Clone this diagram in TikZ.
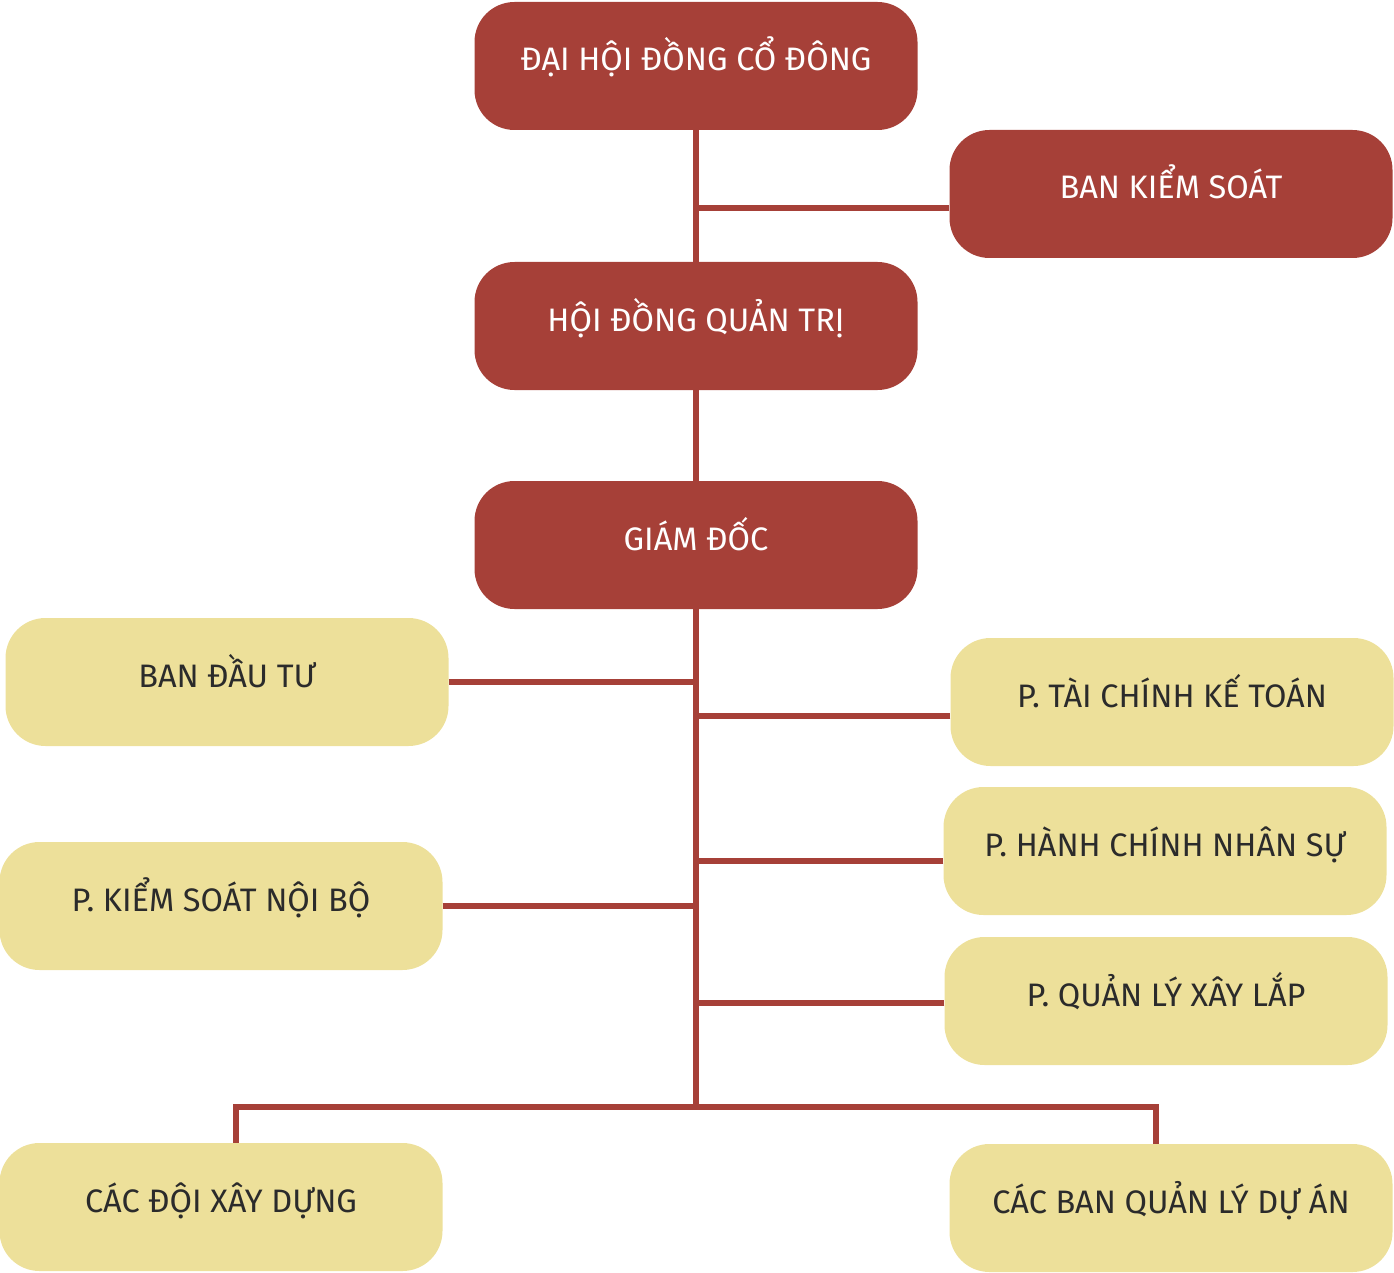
\documentclass[tikz,border=0pt]{standalone}
\usepackage{fontspec}
\setmainfont{Fira Sans}
\definecolor{boardRed}{HTML}{A64038}
\definecolor{deptYellow}{HTML}{EDE09A}
\definecolor{deptText}{HTML}{2B2B2B}

\begin{document}
\begin{tikzpicture}[x=1pt, y=-1pt,
    link/.style={draw=boardRed, line width=6pt},
    board/.style={fill=boardRed, text=white, rounded corners=40pt, minimum width=443pt, minimum height=128pt,
      text height=25pt, text depth=15pt, font=\fontsize{32.5}{36}\selectfont},
    dept/.style={board, fill=deptYellow, text=deptText}]
        \useasboundingbox (0,0) rectangle (1394,1273);

        \node[board] (DHCD) at (696,66) {ĐẠI HỘI ĐỒNG CỔ ĐÔNG};
        \node[board] (BKS) at (1171,194) {BAN KIỂM SOÁT};
        \node[board] (HDQT) at (696,326) {HỘI ĐỒNG QUẢN TRỊ};
        \node[board] (GD) at (696,545) {GIÁM ĐỐC};
        \node[dept] (BDT) at (227,682) {BAN ĐẦU TƯ};
        \node[dept] (TCKT) at (1172,702) {P. TÀI CHÍNH KẾ TOÁN};
        \node[dept] (HCNS) at (1165,851) {P. HÀNH CHÍNH NHÂN SỰ};
        \node[dept] (KSNB) at (221,906) {P. KIỂM SOÁT NỘI BỘ};
        \node[dept] (QLXL) at (1166,1001) {P. QUẢN LÝ XÂY LẮP};
        \node[dept] (DXD) at (221,1207) {CÁC ĐỘI XÂY DỰNG};
        \node[dept] (BQLDA) at (1171,1208) {CÁC BAN QUẢN LÝ DỰ ÁN};
        \coordinate (Fork) at (696,1107);

        \draw[link] (DHCD) -- (HDQT);
        \draw[link] (HDQT) -- (GD);
        \draw[link] ([yshift=-14pt]BKS.west) -- ([yshift=-14pt]BKS.west -| DHCD.south);
        \draw[link] (GD.south) -- (Fork);
        \draw[link] (BDT.east) -- (BDT.east -| Fork);
        \draw[link] ([yshift=-14pt]TCKT.west) -- ([yshift=-14pt]TCKT.west -| Fork);
        \draw[link] ([yshift=-10pt]HCNS.west) -- ([yshift=-10pt]HCNS.west -| Fork);
        \draw[link] (KSNB.east) -- (KSNB.east -| Fork);
        \draw[link] ([yshift=-2pt]QLXL.west) -- ([yshift=-2pt]QLXL.west -| Fork);
        \draw[link] ([xshift=15pt]DXD.north) |- (Fork) -| ([xshift=-15pt]BQLDA.north);
    \end{tikzpicture}
\end{document}
